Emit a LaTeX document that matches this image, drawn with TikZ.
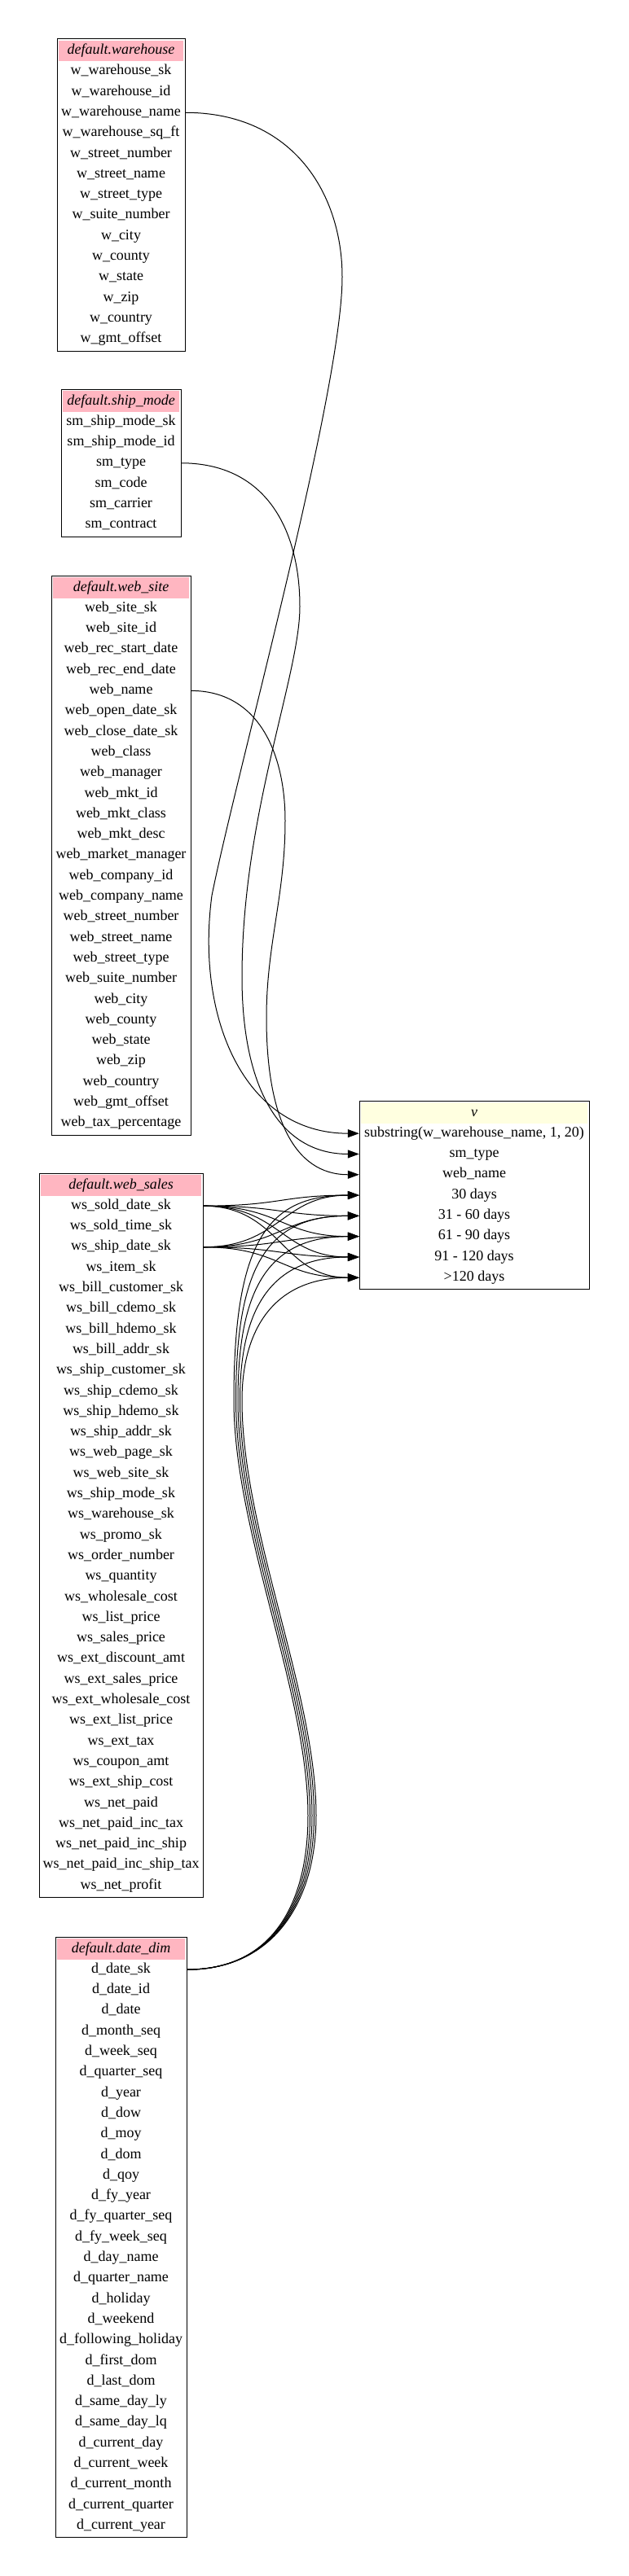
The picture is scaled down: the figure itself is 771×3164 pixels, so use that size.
\documentclass[tikz,border=0pt]{standalone}
\usepackage{fontspec}
\setmainfont{Liberation Serif}
\usetikzlibrary{arrows.meta}
\definecolor{headpink}{HTML}{FFB6C1}
\definecolor{headyellow}{HTML}{FFFFE0}
\tikzset{
  tblrow/.style={minimum height=25.3pt, inner sep=0pt, text height=12.6pt, text depth=4.2pt, anchor=north},
  tblhead/.style={tblrow, fill=#1},
  link/.style={line width=1pt, -{Triangle[length=14pt,width=10pt]}},
}
% name, centre x, top y, width, header colour, header, fields
\newcommand\dbtable[7]{%
  \node[tblhead=#5, minimum width=#4pt-4pt] (#1-0) at (#2,#3+2) {\textit{#6}};
  \foreach \f [count=\i] in {#7} {
    \node[tblrow, minimum width=#4pt] (#1-\i) at (#2,#3+2+\i*25.3) {\f};
    \xdef\lastrow{\i}
  }
  \draw[line width=1pt] (#2-#4/2,#3) rectangle (#2+#4/2,#3+4+\lastrow*25.3+25.3);
}

\begin{document}
\begin{tikzpicture}[x=1pt, y=-1pt, font=\fontsize{18pt}{22pt}\selectfont]
  \useasboundingbox (0,0) rectangle (771,3164);
  \fill[white] (0,0) rectangle (771,3164);
  % ---- source tables ----
  \dbtable{wh}{148.5}{47.5}{157}{headpink}{default.warehouse}{w\_warehouse\_sk, w\_warehouse\_id, w\_warehouse\_name, w\_warehouse\_sq\_ft, w\_street\_number, w\_street\_name, w\_street\_type, w\_suite\_number, w\_city, w\_county, w\_state, w\_zip, w\_country, w\_gmt\_offset}
  \dbtable{sm}{148.5}{478}{147}{headpink}{default.ship\_mode}{sm\_ship\_mode\_sk, sm\_ship\_mode\_id, sm\_type, sm\_code, sm\_carrier, sm\_contract}
  \dbtable{site}{148.5}{707}{171}{headpink}{default.web\_site}{web\_site\_sk, web\_site\_id, web\_rec\_start\_date, web\_rec\_end\_date, web\_name, web\_open\_date\_sk, web\_close\_date\_sk, web\_class, web\_manager, web\_mkt\_id, web\_mkt\_class, web\_mkt\_desc, web\_market\_manager, web\_company\_id, web\_company\_name, web\_street\_number, web\_street\_name, web\_street\_type, web\_suite\_number, web\_city, web\_county, web\_state, web\_zip, web\_country, web\_gmt\_offset, web\_tax\_percentage}
  \dbtable{ws}{148.5}{1441}{201}{headpink}{default.web\_sales}{ws\_sold\_date\_sk, ws\_sold\_time\_sk, ws\_ship\_date\_sk, ws\_item\_sk, ws\_bill\_customer\_sk, ws\_bill\_cdemo\_sk, ws\_bill\_hdemo\_sk, ws\_bill\_addr\_sk, ws\_ship\_customer\_sk, ws\_ship\_cdemo\_sk, ws\_ship\_hdemo\_sk, ws\_ship\_addr\_sk, ws\_web\_page\_sk, ws\_web\_site\_sk, ws\_ship\_mode\_sk, ws\_warehouse\_sk, ws\_promo\_sk, ws\_order\_number, ws\_quantity, ws\_wholesale\_cost, ws\_list\_price, ws\_sales\_price, ws\_ext\_discount\_amt, ws\_ext\_sales\_price, ws\_ext\_wholesale\_cost, ws\_ext\_list\_price, ws\_ext\_tax, ws\_coupon\_amt, ws\_ext\_ship\_cost, ws\_net\_paid, ws\_net\_paid\_inc\_tax, ws\_net\_paid\_inc\_ship, ws\_net\_paid\_inc\_ship\_tax, ws\_net\_profit}
  \dbtable{dd}{148.5}{2379}{161}{headpink}{default.date\_dim}{d\_date\_sk, d\_date\_id, d\_date, d\_month\_seq, d\_week\_seq, d\_quarter\_seq, d\_year, d\_dow, d\_moy, d\_dom, d\_qoy, d\_fy\_year, d\_fy\_quarter\_seq, d\_fy\_week\_seq, d\_day\_name, d\_quarter\_name, d\_holiday, d\_weekend, d\_following\_holiday, d\_first\_dom, d\_last\_dom, d\_same\_day\_ly, d\_same\_day\_lq, d\_current\_day, d\_current\_week, d\_current\_month, d\_current\_quarter, d\_current\_year}
  % ---- result view ----
  \dbtable{v}{582}{1352}{282}{headyellow}{v}{{substring(w\_warehouse\_name, 1, 20)}, sm\_type, web\_name, 30 days, 31 - 60 days, 61 - 90 days, 91 - 120 days, >120 days}
  % ---- lineage edges ----
  \draw[link] (wh-3.east) .. controls +(134,0) and +(0,-100) .. (420,340)
    .. controls +(0,140) and +(30,-150) .. (260,1100)
    .. controls +(-20,150) and +(-141,0) .. (v-1.west);
  \draw[link] (sm-3.east) .. controls +(104,0) and +(0,-95) .. (368,745)
    .. controls +(0,85) and +(0,-200) .. (297,1200)
    .. controls +(0,130) and +(-101,0) .. (v-2.west);
  \draw[link] (site-5.east) .. controls +(86,0) and +(0,-78) .. (350,1008)
    .. controls +(0,92) and +(0,-90) .. (327,1250)
    .. controls +(0,120) and +(-81,0) .. (v-3.west);
  \foreach \s in {1,3}
    \foreach \n in {4,...,8}
      \draw[link] (ws-\s.east) .. controls +(95,0) and +(-95,0) .. (v-\n.west);
  \foreach \k [evaluate=\k as \n using int(\k+4)] in {0,...,4} {
    \pgfmathsetmacro\dx{(\k-2)*2.5}
    \draw[link] (dd-1.east) .. controls +(111,0) and +(0,100) .. (383+\dx,2230)
      .. controls +(0,-150) and +(0,160) .. (292+\dx,1720)
      .. controls +(0,{-200+30*\k}) and +(-110,0) .. (v-\n.west);
  }
\end{tikzpicture}
\end{document}
